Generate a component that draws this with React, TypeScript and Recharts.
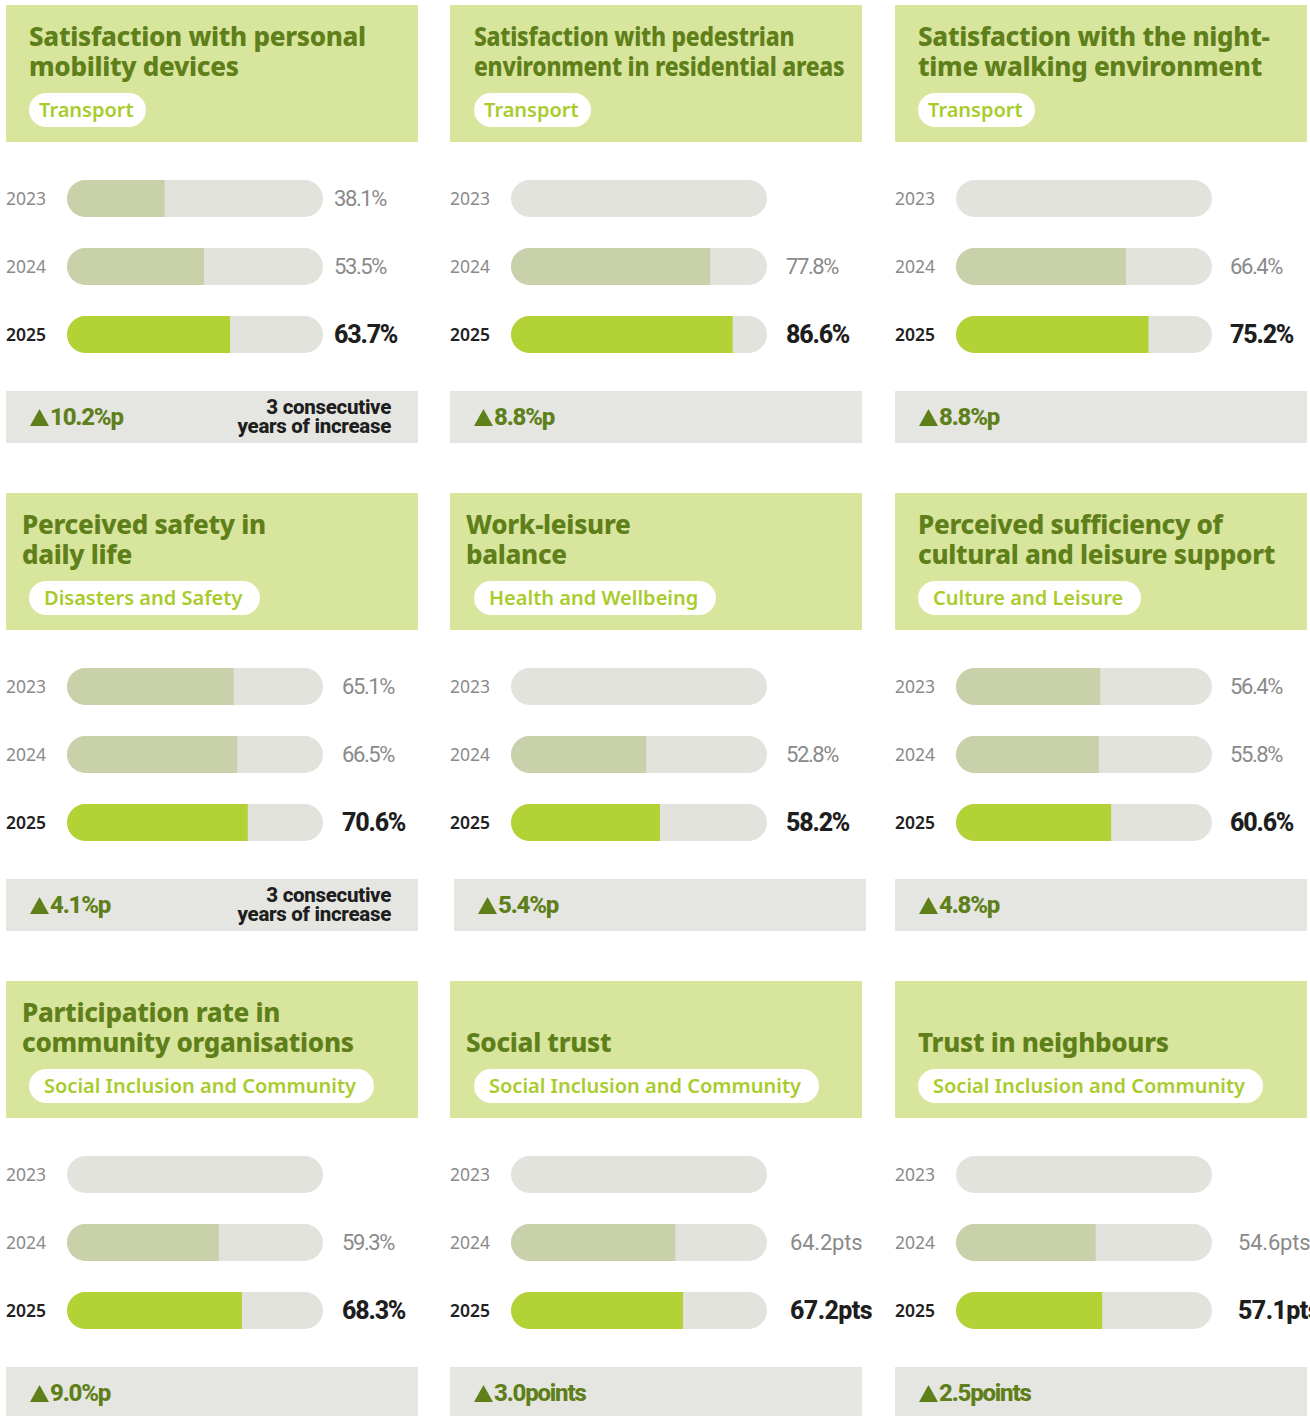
import { BarChart, Bar, XAxis, YAxis, Cell, LabelList } from 'recharts';

const years = ['2023', '2024', '2025'];

const titles = [
  ['Satisfaction with personal', 'mobility devices'],
  ['Satisfaction with pedestrian', 'environment in residential areas'],
  ['Satisfaction with the night-', 'time walking environment'],
  ['Perceived safety in', 'daily life'],
  ['Work-leisure', 'balance'],
  ['Perceived sufficiency of', 'cultural and leisure support'],
  ['Participation rate in', 'community organisations'],
  ['Social trust'],
  ['Trust in neighbours'],
];

const categories = [
  'Transport',
  'Transport',
  'Transport',
  'Disasters and Safety',
  'Health and Wellbeing',
  'Culture and Leisure',
  'Social Inclusion and Community',
  'Social Inclusion and Community',
  'Social Inclusion and Community',
];

const units = ['%', '%', '%', '%', '%', '%', '%', 'pts', 'pts'];

const values2023 = [38.1, null, null, 65.1, null, 56.4, null, null, null];
const values2024 = [53.5, 77.8, 66.4, 66.5, 52.8, 55.8, 59.3, 64.2, 54.6];
const values2025 = [63.7, 86.6, 75.2, 70.6, 58.2, 60.6, 68.3, 67.2, 57.1];

const changes = ['10.2%p', '8.8%p', '8.8%p', '4.1%p', '5.4%p', '4.8%p', '9.0%p', '3.0points', '2.5points'];
const streakNotes = ['3 consecutive|years of increase', '', '', '3 consecutive|years of increase', '', '', '', '', ''];

// scale of every track: 0 to 100
const SCALE_MAX = 100;

// layout
const COL_X = [6, 450, 895];
const ROW_Y = [5, 493, 981];
const PANEL_W = 412;
const TRACK_W = 256;
const AXIS_W = 61;
const CHART_W = 440;
const BAR_H = 37;
const labelGaps = [11, 19, 18, 19, 19, 18, 19, 23, 26];
const titleX = [23, 24, 23, 16, 16, 23, 16, 16, 23];
const titleSquash = [1, 0.88, 1, 1, 1, 1, 1, 1, 1];
const pillX = [23, 24, 23, 23, 24, 23, 23, 24, 23];
const deltaShift = [0, 0, 0, 0, 4, 0, 0, 0, 0];

const GREEN_DARK = '#5e7f1a';
const GREEN_LIGHT = '#a8cc2c';
const HEADER_BG = '#d8e59c';
const TRACK = '#e2e3dc';
const PAST = '#c9d1ab';
const CURRENT = '#b2d235';
const DELTA_BG = '#e5e6e1';

const YearTick = (props: any) => {
  const { y, payload } = props;
  const current = payload.value === '2025';
  return (
    <text
      x={0}
      y={y}
      dominantBaseline="central"
      fontFamily="Noto Sans"
      fontSize={17.5}
      fontWeight={current ? 600 : 400}
      fill={current ? '#222222' : '#8a8a8a'}
    >
      {payload.value}
    </text>
  );
};

const valueLabel = (i: number) => (props: any) => {
  const { x, y, height, value } = props;
  if (value == null) return null;
  const current = Number(value) === values2025[i];
  const pts = units[i] === 'pts';
  return (
    <text
      x={Number(x) + TRACK_W + labelGaps[i]}
      y={Number(y) + Number(height) / 2}
      dominantBaseline="central"
      fontFamily="Roboto"
      fontSize={current ? 25 : 22}
      fontWeight={current ? 800 : 400}
      letterSpacing={current ? (pts ? -0.6 : -1.2) : pts ? -0.2 : -1.4}
      fill={current ? '#1e1e1e' : '#8a8a8a'}
    >
      {Number(value).toFixed(1) + units[i]}
    </text>
  );
};

const Up = () => (
  <svg width={19} height={17} style={{ marginRight: 1, verticalAlign: '-1px' }}>
    <polygon points="9.5,0 19,17 0,17" fill={GREEN_DARK} />
  </svg>
);

function Panel({ i }: { i: number }) {
  const data = years.map((year, k) => ({
    year,
    value: [values2023, values2024, values2025][k][i],
    track: SCALE_MAX,
  }));
  const note = streakNotes[i];
  const isTransport = categories[i] === 'Transport';
  return (
    <div
      style={{
        position: 'absolute',
        left: COL_X[i % 3],
        top: ROW_Y[Math.floor(i / 3)],
        width: PANEL_W,
        height: 440,
      }}
    >
      {/* header */}
      <div style={{ position: 'absolute', left: 0, top: 0, width: PANEL_W, height: 137, background: HEADER_BG }}>
        <div
          style={{
            position: 'absolute',
            left: titleX[i],
            top: 16,
            height: 60,
            display: 'flex',
            flexDirection: 'column',
            justifyContent: 'flex-end',
            fontFamily: 'Noto Sans',
            fontWeight: 800,
            fontSize: 26,
            lineHeight: '30px',
            letterSpacing: -0.3,
            color: GREEN_DARK,
            whiteSpace: 'nowrap',
            transform: `scaleX(${titleSquash[i]})`,
            transformOrigin: 'left center',
          }}
        >
          {titles[i].map((line) => (
            <div key={line}>{line}</div>
          ))}
        </div>
        <div
          style={{
            position: 'absolute',
            left: pillX[i],
            top: 88,
            height: 34,
            lineHeight: '34px',
            padding: isTransport ? '0 12px 0 10px' : '0 18px 0 15px',
            borderRadius: 17,
            background: '#ffffff',
            fontFamily: 'Noto Sans',
            fontWeight: 600,
            fontSize: 20,
            color: GREEN_LIGHT,
            whiteSpace: 'nowrap',
          }}
        >
          {categories[i]}
        </div>
      </div>

      {/* bars */}
      <div style={{ position: 'absolute', left: 0, top: 159 }}>
        <BarChart
          width={CHART_W}
          height={204}
          data={data}
          layout="vertical"
          barGap={-BAR_H}
          margin={{ top: 0, right: CHART_W - AXIS_W - TRACK_W, bottom: 0, left: 0 }}
        >
          <XAxis type="number" domain={[0, SCALE_MAX]} hide />
          <YAxis
            type="category"
            dataKey="year"
            width={AXIS_W}
            axisLine={false}
            tickLine={false}
            tick={<YearTick />}
          />
          <Bar dataKey="track" barSize={BAR_H} radius={BAR_H / 2} fill={TRACK} isAnimationActive={false} />
          <Bar
            dataKey="value"
            barSize={BAR_H}
            radius={[BAR_H / 2, 0, 0, BAR_H / 2]}
            isAnimationActive={false}
          >
            {data.map((d, k) => (
              <Cell key={d.year} fill={k === 2 ? CURRENT : PAST} />
            ))}
            <LabelList dataKey="value" content={valueLabel(i)} />
          </Bar>
        </BarChart>
      </div>

      {/* change box */}
      <div
        style={{
          position: 'absolute',
          left: deltaShift[i],
          top: 386,
          width: PANEL_W,
          height: 52,
          background: DELTA_BG,
        }}
      >
        <div
          style={{
            position: 'absolute',
            left: 24,
            top: 0,
            lineHeight: '52px',
            fontFamily: 'Roboto',
            fontWeight: 800,
            fontSize: 24,
            letterSpacing: -1.2,
            color: GREEN_DARK,
            whiteSpace: 'nowrap',
          }}
        >
          <Up />
          {changes[i]}
        </div>
        {note && (
          <div
            style={{
              position: 'absolute',
              right: 27,
              top: 7,
              textAlign: 'right',
              fontFamily: 'Roboto',
              fontWeight: 800,
              fontSize: 20.5,
              lineHeight: '19px',
              letterSpacing: -0.3,
              color: '#1e1e1e',
            }}
          >
            {note.split('|').map((l) => (
              <div key={l}>{l}</div>
            ))}
          </div>
        )}
      </div>
    </div>
  );
}

export default function App() {
  return (
    <div
      style={{
        position: 'absolute',
        left: 0,
        top: 0,
        width: 1310,
        height: 1416,
        overflow: 'hidden',
        background: '#ffffff',
      }}
    >
      {titles.map((_, i) => (
        <Panel key={i} i={i} />
      ))}
    </div>
  );
}
